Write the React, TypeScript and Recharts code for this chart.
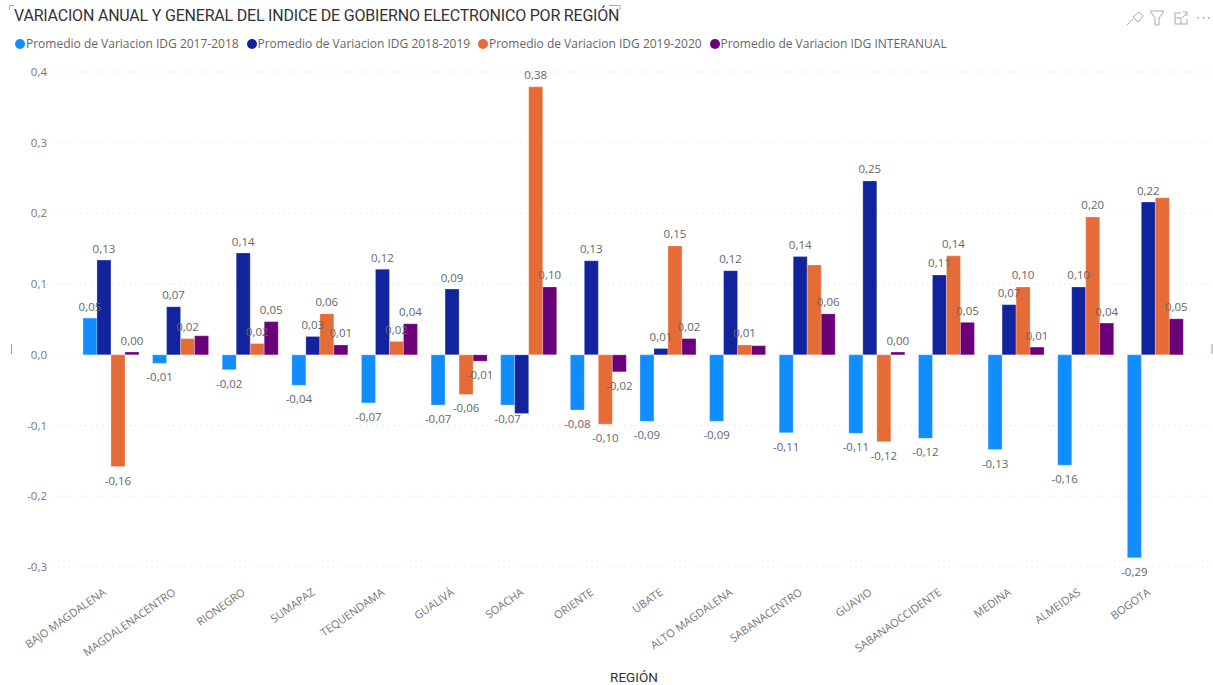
import React from "react";
import { BarChart, Bar, XAxis, YAxis, CartesianGrid, LabelList, Legend, Label } from "recharts";

const regions = ["BAJO MAGDALENA","MAGDALENACENTRO","RIONEGRO","SUMAPAZ","TEQUENDAMA","GUALIVÁ","SOACHA","ORIENTE","UBATE","ALTO MAGDALENA","SABANACENTRO","GUAVIO","SABANAOCCIDENTE","MEDINA","ALMEIDAS","BOGOTA"];
const v1718 = [0.052,-0.012,-0.021,-0.043,-0.068,-0.071,-0.071,-0.078,-0.094,-0.094,-0.11,-0.111,-0.118,-0.134,-0.156,-0.287];
const v1819 = [0.134,0.068,0.144,0.026,0.121,0.093,-0.083,0.133,0.009,0.119,0.139,0.246,0.113,0.071,0.096,0.216];
const v1920 = [-0.158,0.023,0.016,0.058,0.019,-0.056,0.379,-0.098,0.154,0.014,0.127,-0.123,0.14,0.096,0.195,0.222];
const vInter = [0.004,0.027,0.047,0.014,0.044,-0.009,0.096,-0.024,0.023,0.013,0.058,0.004,0.046,0.011,0.045,0.051];
const yTicks = [-0.3,-0.2,-0.1,0,0.1,0.2,0.3,0.4];
const seriesNames = ["Promedio de Variacion IDG 2017-2018","Promedio de Variacion IDG 2018-2019","Promedio de Variacion IDG 2019-2020","Promedio de Variacion IDG INTERANUAL"];
const colors = ["#118DFF","#12239E","#E66C37","#6B007B"];
// labels the reference does not show, as they collide with a neighbour: series key + region
const hiddenLabels = ["d:MAGDALENACENTRO","b:SOACHA","d:ALTO MAGDALENA","c:SABANACENTRO","c:BOGOTA"];
const FONT = "'Open Sans', sans-serif";
const data = regions.map((r,i)=>({region:r,a:v1718[i],b:v1819[i],c:v1920[i],d:vInter[i]}));
const keys = ["a","b","c","d"];
const comma = (n:number,d:number)=>n.toFixed(d).replace(".",",");

const ValueLabel = (p:any)=>{
  if (hiddenLabels.includes(p.seriesKey+":"+regions[p.index])) return null;
  const top = Math.min(p.y,p.y+p.height), bot = Math.max(p.y,p.y+p.height);
  const yy = p.value<0 ? bot+14 : top-11.5;
  return <text x={p.x+p.width/2} y={yy} dy={4} textAnchor="middle" fontSize={11.5} fontFamily={FONT} fill="#666">{comma(p.value,2)}</text>;
};
const XTick = (p:any)=>(
  <text x={0} y={0} transform={`translate(${p.x-4},${p.y+19}) rotate(-35)`} textAnchor="end" fontSize={11} fontFamily={FONT} fill="#777">{p.payload.value}</text>
);
const LegendRow = (p:any)=>(
  <div style={{display:"flex",fontFamily:FONT,fontSize:12,color:"#666",whiteSpace:"nowrap"}}>
    {p.payload.map((e:any)=>(
      <div key={e.value} style={{display:"flex",alignItems:"center",width:231.5}}>
        <span style={{width:10,height:10,borderRadius:5,background:e.color,marginRight:1,flex:"none"}}/>
        <span>{e.value}</span>
      </div>
    ))}
  </div>
);

export default function App(){
  return (
    <div style={{position:"absolute",left:0,top:0,width:1213,height:685,overflow:"hidden",background:"#fff"}}>
      <div style={{position:"absolute",left:14,top:6,fontFamily:"Roboto, sans-serif",fontSize:16,color:"#333",letterSpacing:-0.2,whiteSpace:"nowrap"}}>VARIACION ANUAL Y GENERAL DEL INDICE DE GOBIERNO ELECTRONICO POR REGIÓN</div>
      <svg width={1213} height={685} style={{position:"absolute",left:0,top:0}} fill="none" stroke="#aaa" strokeWidth={1}>
        <path d="M9.5 10V5.5H14M609 5.5H620V10"/>
        <path d="M1139 12l-6 5 5 5 5-6zM1133 19l-6 6"/>
        <path d="M1150 11h14l-5 7v7h-4v-7z"/>
        <path d="M1175 13h6M1175 13v11h12v-5M1175 18h6v6M1182 18l5-5M1183 12h4v4"/>
        <path d="M1197 18h2M1202.5 18h2M1208 18h2" stroke="#888"/>
        <path d="M11.5 344v10M1212 344v10" stroke="#999"/>
      </svg>
      <BarChart width={1213} height={685} data={data} barCategoryGap="10%" barGap={0} margin={{top:52,right:4,bottom:0,left:0}} style={{position:"absolute",left:0,top:0}}>
        <Legend verticalAlign="top" align="left" content={<LegendRow/>}
          wrapperStyle={{position:"absolute",left:15,top:35,bottom:"auto",width:1000,height:20}} />
        <CartesianGrid horizontal vertical={false} stroke="#d9d9d9" strokeDasharray="1 4.5" />
        <XAxis dataKey="region" interval={0} axisLine={false} tickLine={false} tick={<XTick/>} height={118} padding={{left:29,right:19}}>
          <Label value="REGIÓN" content={()=><text x={634} y={682} textAnchor="middle" fontFamily="Roboto, sans-serif" fontSize={13.5} fill="#333">REGIÓN</text>} />
        </XAxis>
        <YAxis domain={[-0.3,0.4]} ticks={yTicks} width={47} axisLine={false} tickLine={false}
          tick={(p:any)=><text x={47} y={p.y+4} textAnchor="end" fontFamily={FONT} fontSize={11.5} fill="#777">{comma(p.payload.value,1)}</text>} />
        {keys.map((k,i)=>(
          <Bar key={k} dataKey={k} name={seriesNames[i]} fill={colors[i]} isAnimationActive={false} stroke="#ffffff" strokeOpacity={0.25}>
            <LabelList dataKey={k} content={<ValueLabel seriesKey={k}/>} />
          </Bar>
        ))}
      </BarChart>
    </div>
  );
}
